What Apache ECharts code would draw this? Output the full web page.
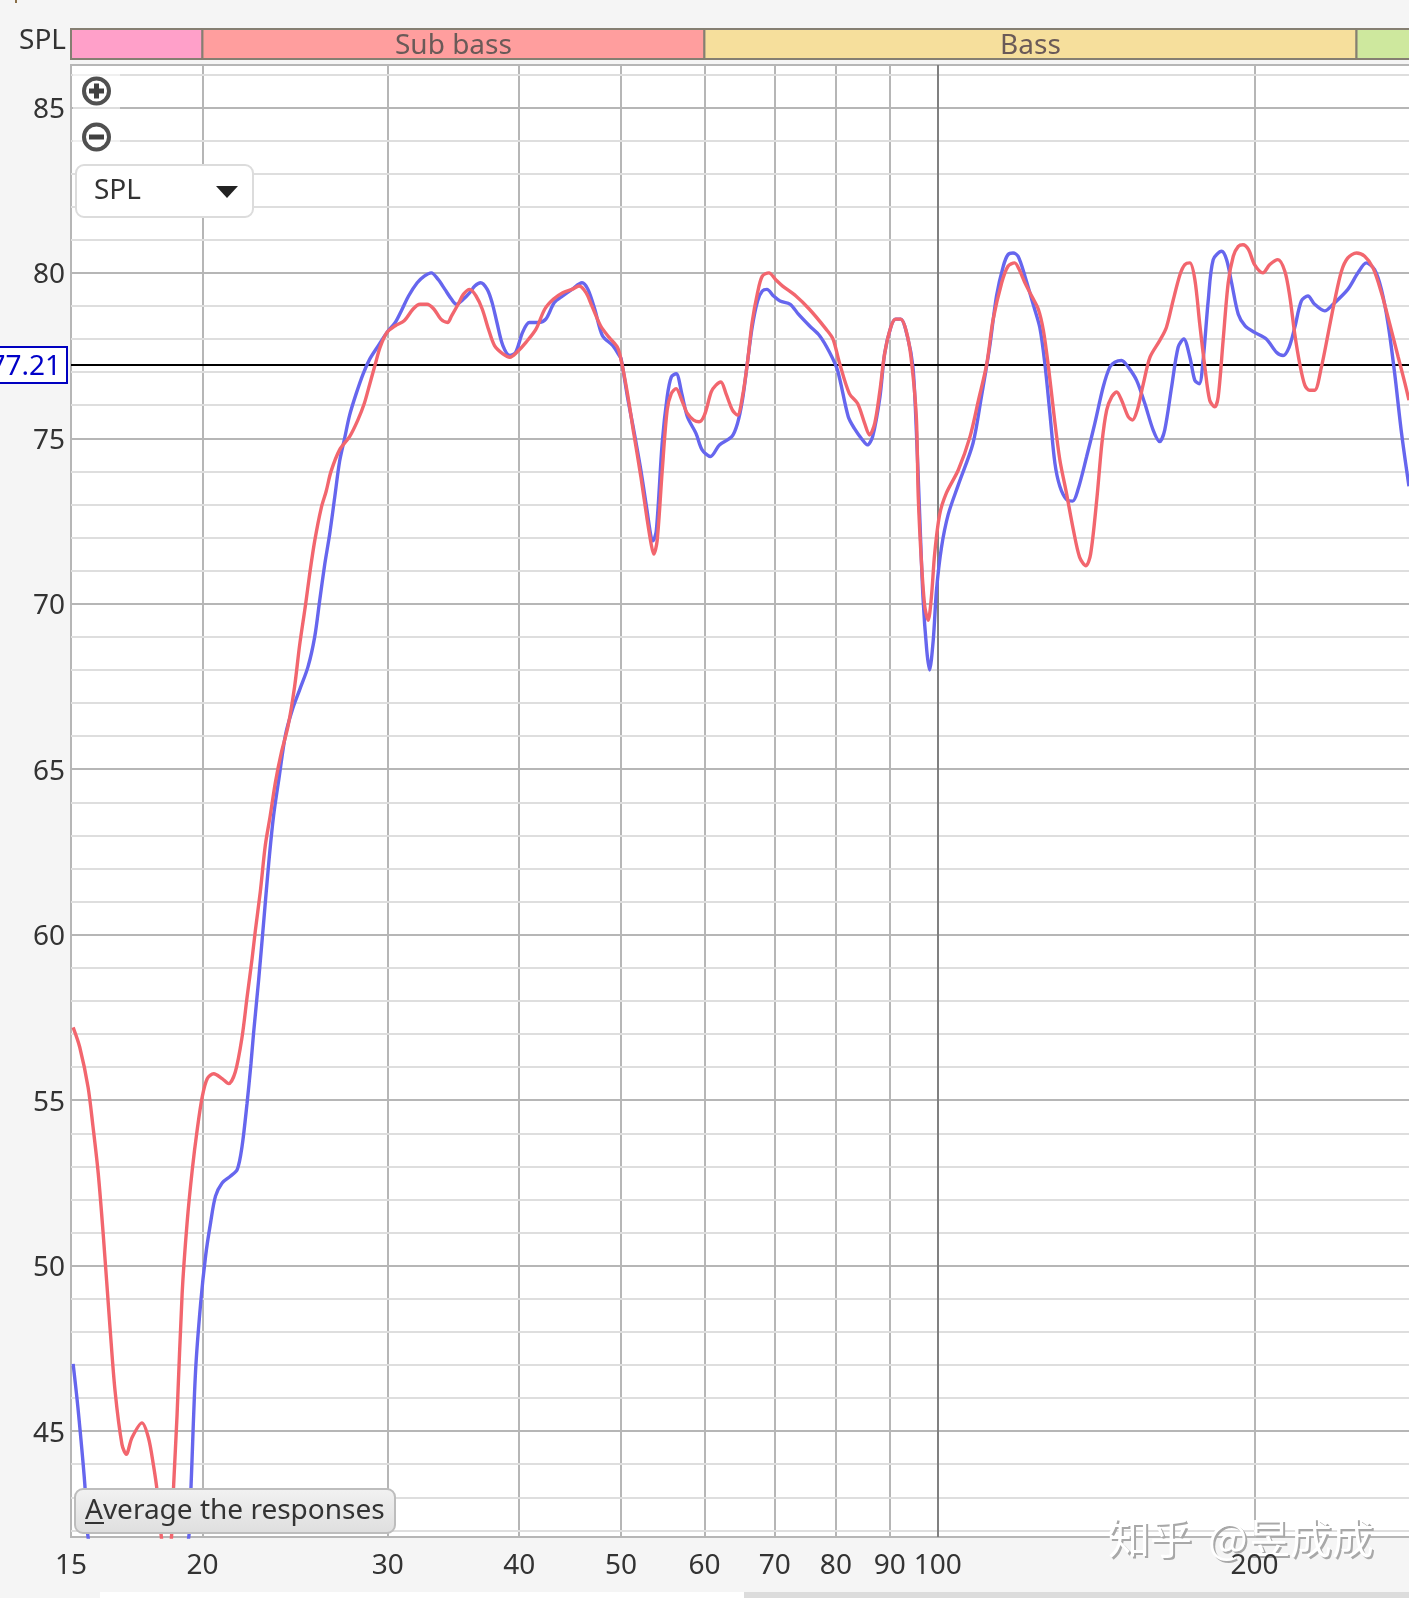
<!DOCTYPE html>
<html>
<head>
<meta charset="utf-8">
<title>SPL</title>
<script src="https://cdn.jsdelivr.net/npm/echarts@6/dist/echarts.min.js"></script>
<style>
  html, body { margin: 0; padding: 0; background: #f5f5f5; overflow: hidden; }
  #chart { width: 1409px; height: 1598px; }
</style>
</head>
<body>
<div id="chart"></div>
<script>
// frequency ticks (Hz) and level ticks (dB)
const freqTicks = [15, 20, 30, 40, 50, 60, 70, 80, 90, 100, 200];
const freqLines = [20, 30, 40, 50, 60, 70, 80, 90, 200];
const dbMajor = [45, 50, 55, 60, 65, 70, 75, 80, 85];
const dbMinor = [42, 43, 44, 46, 47, 48, 49, 51, 52, 53, 54, 56, 57, 58, 59, 61, 62, 63, 64, 66, 67, 68, 69, 71, 72, 73, 74, 76, 77, 78, 79, 81, 82, 83, 84, 86];

const bandNames = ['', 'Sub bass', 'Bass', ''];
const bandEdges = [15, 20, 60, 250, 283];
const bandColors = ['#ffa0c9', '#ff9e9e', '#f6df9c', '#cee89e'];

const cursorDb = 77.21;

const blueFreq = [15.07, 15.23, 15.46, 15.57, 16.3, 18.6, 19.41, 19.51, 19.7, 19.92, 20.14, 20.36, 20.58, 20.88, 21.26, 21.58, 21.81, 22.05, 22.24, 22.37, 22.62, 22.87, 23.12, 23.37, 23.64, 23.99, 24.35, 24.74, 25.2, 25.57, 25.85, 26.14, 26.42, 26.71, 27, 27.3, 27.6, 28, 28.43, 28.85, 29.39, 29.95, 30.5, 30.96, 31.4, 32, 32.5, 33, 33.5, 34, 34.5, 34.87, 35.4, 35.9, 36.3, 36.76, 37.3, 37.7, 38.1, 38.6, 39.2, 39.7, 40.3, 40.9, 41.7, 42.4, 43.2, 44, 44.9, 45.9, 46.5, 47.2, 48, 49.1, 49.8, 50, 50.7, 51.4, 52.2, 52.9, 53.4, 53.6, 54, 54.7, 55.3, 55.8, 56.4, 57.1, 57.8, 58.9, 59.7, 60.8, 62, 63.7, 64.5, 65.2, 65.9, 66.6, 67.4, 68.1, 68.8, 69.8, 70.8, 72.4, 73.7, 75.5, 77.2, 78.9, 80.3, 82.2, 83.3, 84.8, 85.7, 86.7, 88.1, 89, 90.2, 91.2, 92.2, 93.6, 94.7, 95.4, 96.1, 96.8, 97.6, 98.2, 99, 99.7, 100.8, 102.3, 104.6, 108, 110, 112, 113.7, 115.4, 116.6, 117.9, 119.2, 121, 123.2, 125, 126.4, 127.8, 129.2, 130.6, 132.5, 134.3, 135.9, 138.5, 141, 143.6, 145.7, 147.3, 149.5, 151.7, 154.5, 157.3, 160.2, 162.5, 164.3, 166.8, 169.2, 171.3, 173.6, 175.5, 177.2, 178.7, 180.7, 182.7, 186.1, 188.1, 190.2, 193, 195.9, 200, 205.2, 209.8, 212.9, 215.7, 218.4, 221.6, 224.8, 228.1, 233.2, 237.5, 245.3, 250.8, 255.4, 260.1, 264, 267.9, 271.8, 275.9, 280.4];
const blueDb = [47.03, 45.7, 43.4, 41.8, 38.5, 38.5, 41.8, 43.4, 46.8, 48.85, 50.3, 51.3, 52.1, 52.5, 52.7, 52.9, 53.6, 54.9, 56.1, 57.04, 58.65, 60.4, 62.15, 63.6, 64.7, 66.05, 66.8, 67.4, 68.1, 69, 70.1, 71.2, 72.1, 73.2, 74.3, 75, 75.7, 76.35, 76.95, 77.4, 77.8, 78.2, 78.5, 78.9, 79.3, 79.7, 79.9, 80, 79.8, 79.5, 79.2, 79.05, 79.2, 79.4, 79.6, 79.7, 79.5, 79.1, 78.5, 77.8, 77.5, 77.6, 78.2, 78.5, 78.5, 78.6, 79.1, 79.3, 79.5, 79.7, 79.5, 78.9, 78.1, 77.8, 77.5, 77.4, 76.25, 75.25, 74.05, 72.85, 72, 71.9, 72.2, 74.85, 76.25, 76.85, 76.95, 76.35, 75.65, 75.15, 74.65, 74.45, 74.8, 75.05, 75.45, 76.15, 77.25, 78.35, 79.15, 79.45, 79.5, 79.3, 79.15, 79.05, 78.75, 78.4, 78.1, 77.6, 77.05, 75.65, 75.3, 74.95, 74.8, 75.05, 76.25, 77.55, 78.35, 78.6, 78.6, 78.05, 77.15, 75.25, 72.7, 70.2, 68.6, 68, 68.9, 70.4, 71.7, 72.7, 73.6, 74.85, 76.25, 77.75, 79.3, 80.2, 80.55, 80.6, 80.5, 79.9, 79.05, 78.35, 77.25, 75.75, 74.25, 73.55, 73.15, 73.1, 73.45, 74.45, 75.45, 76.55, 77.15, 77.3, 77.35, 77.15, 76.75, 76.05, 75.25, 74.9, 75.25, 76.55, 77.75, 78, 77.45, 76.75, 76.65, 77.35, 79.15, 80.4, 80.65, 80.4, 79.7, 78.75, 78.4, 78.2, 78, 77.6, 77.5, 77.75, 78.35, 79.15, 79.3, 79.05, 78.85, 79.05, 79.5, 80, 80.3, 80.1, 79.5, 78.45, 76.95, 75.15, 73.55];

const redFreq = [15.07, 15.29, 15.57, 15.74, 15.92, 16.1, 16.34, 16.52, 16.77, 16.93, 17.14, 17.52, 17.77, 17.97, 18.11, 18.28, 18.48, 18.69, 18.78, 18.92, 19.13, 19.34, 19.56, 19.77, 19.99, 20.21, 20.5, 20.88, 21.18, 21.49, 21.81, 22.05, 22.3, 22.45, 22.7, 22.95, 23.2, 23.46, 23.77, 24.12, 24.47, 24.74, 25.07, 25.29, 25.57, 25.94, 26.22, 26.5, 27, 27.6, 28.1, 28.5, 28.85, 29.2, 29.5, 29.95, 30.5, 31.1, 31.7, 32.2, 32.7, 33.2, 33.7, 34.2, 34.5, 35, 35.4, 35.9, 36.4, 36.9, 37.4, 37.9, 38.6, 39.2, 39.8, 40.6, 41.5, 42.3, 43.1, 44, 44.9, 45.6, 46.3, 46.9, 47.8, 48.7, 49.6, 50, 50.7, 51.4, 52.2, 52.9, 53.4, 53.7, 54.1, 54.7, 55.3, 55.8, 56.4, 57.1, 57.8, 58.6, 59.3, 60, 60.9, 61.5, 62.2, 62.9, 63.8, 64.5, 65.2, 65.9, 66.6, 67.4, 68.1, 69.1, 70.1, 71.2, 73.3, 75.5, 78.3, 79.5, 80.6, 82.4, 83.9, 85.2, 86.1, 87.1, 88.1, 89, 90.2, 91.2, 92.2, 93.3, 94.3, 95.4, 95.8, 96.5, 97.2, 97.9, 98.6, 99.3, 100.4, 101.9, 104.6, 107.3, 109.3, 111.3, 112.8, 115, 116.6, 118.3, 119.5, 121, 122.8, 124.6, 126, 127.4, 128.9, 130.6, 132.5, 134.5, 136.4, 138.3, 139.7, 141.6, 143.2, 144.7, 146.3, 147.9, 149.5, 151.7, 153.1, 154.7, 156.8, 159.1, 162.5, 164.9, 167.3, 169.9, 171.7, 173.6, 175.5, 177.4, 179.4, 181.3, 183.3, 184.7, 186.7, 188.8, 190.9, 193, 195, 197.4, 200, 203.7, 206.8, 210.5, 213.7, 216, 218.4, 220.8, 223.3, 225.7, 228.1, 231.5, 234.9, 238.3, 241.9, 245.3, 250, 254.5, 259.2, 264, 268.9, 273.9, 278, 280.4];
const redDb = [57.2, 56.6, 55.4, 54.2, 52.8, 50.9, 48.1, 46.2, 44.6, 44.3, 44.8, 45.25, 44.8, 43.95, 43.2, 41.8, 40.6, 41.8, 43.4, 45.5, 49.15, 51.3, 52.9, 54.1, 55.1, 55.65, 55.8, 55.65, 55.5, 55.85, 56.9, 58.1, 59.3, 60.1, 61.3, 62.7, 63.6, 64.6, 65.5, 66.3, 67.5, 68.75, 70, 70.9, 71.9, 72.9, 73.4, 74, 74.65, 75.05, 75.55, 76.05, 76.65, 77.25, 77.75, 78.2, 78.4, 78.55, 78.9, 79.05, 79.05, 78.9, 78.6, 78.5, 78.7, 79.05, 79.35, 79.5, 79.3, 78.9, 78.3, 77.8, 77.55, 77.45, 77.6, 77.9, 78.3, 78.9, 79.2, 79.4, 79.5, 79.6, 79.4, 79, 78.4, 78.05, 77.75, 77.36, 76.35, 75.15, 73.85, 72.6, 71.8, 71.5, 71.9, 74, 75.85, 76.35, 76.5, 76.15, 75.75, 75.55, 75.5, 75.7, 76.4, 76.6, 76.7, 76.35, 75.85, 75.7, 76.25, 77.25, 78.5, 79.4, 79.9, 80, 79.8, 79.6, 79.3, 78.9, 78.3, 78, 77.3, 76.35, 76.05, 75.45, 75.1, 75.45, 76.45, 77.55, 78.35, 78.6, 78.6, 78.25, 77.45, 75.65, 73.25, 71.2, 69.9, 69.5, 70.2, 71.5, 72.7, 73.35, 74.05, 75.05, 76.15, 77.25, 78.55, 79.7, 80.2, 80.3, 80.1, 79.7, 79.3, 78.9, 78.25, 77.15, 75.75, 74.35, 73.35, 72.25, 71.4, 71.15, 71.5, 73.15, 74.85, 75.85, 76.25, 76.4, 76.15, 75.65, 75.55, 75.85, 76.65, 77.45, 77.95, 78.35, 79.15, 79.95, 80.25, 80.3, 79.8, 78.45, 77.15, 76.15, 75.95, 76.25, 77.95, 79.7, 80.5, 80.8, 80.85, 80.7, 80.25, 80, 80.25, 80.4, 80.05, 79.3, 78.15, 77.25, 76.6, 76.45, 76.45, 77.15, 78.15, 79.15, 80.05, 80.45, 80.6, 80.5, 80.15, 79.4, 78.45, 77.45, 76.65, 76.15];

const zip = (xs, ys) => xs.map((x, i) => [x, ys[i]]);

const FONT = '"Noto Sans", "Open Sans", sans-serif';
const GRID_COLOR = '#b6b6b6';
const GRID_MINOR = '#dedede';
const TEXT_COLOR = '#333';
const X_MIN = 15, X_MAX = 282.9;
const PLOT_W = 1342; // runs a few pixels past the window so no right border shows

const chart = echarts.init(document.getElementById('chart'));

const bandAreas = bandNames.map((name, i) => [
  {
    xAxis: bandEdges[i],
    name: name,
    itemStyle: { color: bandColors[i], opacity: 1, borderColor: '#857f72', borderWidth: 2 }
  },
  { xAxis: bandEdges[i + 1] }
]);

chart.setOption({
  animation: false,
  backgroundColor: '#f5f5f5',
  grid: [
    { left: 71, top: 65, width: PLOT_W, height: 1472, outerBoundsMode: 'none', show: true, backgroundColor: '#fff', borderColor: GRID_COLOR, borderWidth: 2 },
    { left: 71, top: 29, width: PLOT_W, height: 30, outerBoundsMode: 'none' }
  ],
  xAxis: [
    {
      type: 'log', min: X_MIN, max: X_MAX, logBase: 10, gridIndex: 0,
      axisLine: { show: false },
      axisTick: { show: false, customValues: freqLines },
      minorTick: { show: false },
      splitLine: { show: true, lineStyle: { color: GRID_COLOR, width: 2 } },
      axisLabel: { show: false }
    },
    { type: 'log', min: X_MIN, max: X_MAX, logBase: 10, gridIndex: 1, show: false },
    {
      // tick labels only, kept above the watermark
      type: 'log', min: X_MIN, max: X_MAX, logBase: 10, gridIndex: 0, position: 'bottom', z: 40,
      axisLine: { show: false }, axisTick: { show: false, customValues: freqTicks }, splitLine: { show: false }, minorTick: { show: false },
      axisLabel: { customValues: freqTicks, color: TEXT_COLOR, fontFamily: FONT, fontSize: 28, margin: 15, hideOverlap: false, formatter: v => String(Math.round(v)) }
    }
  ],
  yAxis: [
    {
      type: 'value', min: 41.8, max: 86.28, gridIndex: 0, position: 'left', z: 2,
      axisLine: { show: false }, axisTick: { show: false, customValues: dbMajor },
      splitLine: { show: true, lineStyle: { color: GRID_COLOR, width: 2 } },
      axisLabel: {
        customValues: dbMajor, color: TEXT_COLOR, fontFamily: FONT, fontSize: 28, margin: 6,
        formatter: v => '{t|' + v + '}',
        rich: { t: { fontFamily: FONT, fontSize: 28, color: TEXT_COLOR, padding: [5, 0, 0, 0] } }
      }
    },
    {
      type: 'value', min: 41.8, max: 86.28, gridIndex: 0, position: 'left', z: 1,
      axisLine: { show: false }, axisLabel: { show: false },
      axisTick: { show: false, customValues: dbMinor },
      splitLine: { show: true, lineStyle: { color: GRID_MINOR, width: 2 } }
    },
    { type: 'value', min: 0, max: 1, gridIndex: 1, show: false }
  ],
  series: [
    {
      // 100 Hz line and the level cursor
      type: 'line', data: [], xAxisIndex: 0, yAxisIndex: 0, silent: true,
      markLine: {
        silent: true, symbol: 'none', animation: false, label: { show: false }, z: 2,
        data: [
          { xAxis: 100, lineStyle: { color: '#808080', width: 2, type: 'solid' } },
          { yAxis: cursorDb, lineStyle: { color: '#000', width: 2, type: 'solid' } }
        ]
      }
    },
    {
      name: 'blue', type: 'line', data: zip(blueFreq, blueDb), xAxisIndex: 0, yAxisIndex: 0,
      symbol: 'none', smooth: 0.3, z: 3, lineStyle: { color: '#6666ee', width: 3.4 }
    },
    {
      name: 'red', type: 'line', data: zip(redFreq, redDb), xAxisIndex: 0, yAxisIndex: 0,
      symbol: 'none', smooth: 0.3, z: 4, lineStyle: { color: '#f2666e', width: 3.4 }
    },
    {
      type: 'line', data: [], xAxisIndex: 1, yAxisIndex: 2, silent: true,
      markArea: {
        silent: true,
        label: { show: true, position: 'inside', offset: [0, 2], color: '#6a5a58', fontFamily: FONT, fontSize: 28, formatter: p => p.name },
        data: bandAreas
      }
    }
  ],
  graphic: [
    // window chrome around the plot
    { type: 'rect', shape: { x: 15, y: 0, width: 2, height: 3 }, style: { fill: '#8a6f48' } },
    { type: 'rect', shape: { x: 100, y: 1592, width: 644, height: 6 }, style: { fill: '#fff' } },
    { type: 'rect', shape: { x: 744, y: 1592, width: 665, height: 6 }, style: { fill: '#dcdcdc' } },
    { type: 'text', style: { x: 66, y: 41, text: 'SPL', align: 'right', verticalAlign: 'middle', fill: TEXT_COLOR, font: '28px ' + FONT } },

    // cursor read-out
    { type: 'rect', z: 20, shape: { x: -2, y: 347, width: 69, height: 36 }, style: { fill: '#fff', stroke: '#0000c0', lineWidth: 2 } },
    { type: 'text', z: 21, style: { x: 61, y: 367, text: '77.21', align: 'right', verticalAlign: 'middle', fill: '#0000c8', font: '28px ' + FONT } },

    // zoom buttons
    { type: 'rect', z: 20, shape: { x: 73, y: 72, width: 47, height: 80 }, style: { fill: 'rgba(255,255,255,0.55)' } },
    { type: 'circle', z: 21, shape: { cx: 96.5, cy: 91, r: 12.5 }, style: { fill: '#fff', stroke: '#505050', lineWidth: 4 } },
    { type: 'rect', z: 22, shape: { x: 89, y: 88.5, width: 15, height: 5 }, style: { fill: '#404040' } },
    { type: 'rect', z: 22, shape: { x: 94, y: 83.5, width: 5, height: 15 }, style: { fill: '#404040' } },
    { type: 'circle', z: 21, shape: { cx: 96.5, cy: 137, r: 12.5 }, style: { fill: '#fff', stroke: '#505050', lineWidth: 4 } },
    { type: 'rect', z: 22, shape: { x: 89, y: 134.5, width: 15, height: 5 }, style: { fill: '#404040' } },

    // measurement selector
    { type: 'rect', z: 20, shape: { x: 76, y: 165, width: 177, height: 52, r: 8 }, style: { fill: '#fff', stroke: '#dcdcdc', lineWidth: 2 } },
    { type: 'text', z: 21, style: { x: 94, y: 191, text: 'SPL', align: 'left', verticalAlign: 'middle', fill: TEXT_COLOR, font: '28px ' + FONT } },
    { type: 'polygon', z: 21, shape: { points: [[216, 186], [238, 186], [227, 198]] }, style: { fill: '#222' } },

    // average button
    {
      type: 'rect', z: 20, shape: { x: 75, y: 1489, width: 320, height: 44, r: 8 },
      style: {
        stroke: '#bdbdbd', lineWidth: 2,
        fill: { type: 'linear', x: 0, y: 0, x2: 0, y2: 1, colorStops: [{ offset: 0, color: '#f2f2f2' }, { offset: 1, color: '#dedede' }] }
      }
    },
    { type: 'text', z: 21, style: { x: 85, y: 1511, text: 'Average the responses', align: 'left', verticalAlign: 'middle', fill: TEXT_COLOR, font: '28px ' + FONT } },
    { type: 'rect', z: 21, shape: { x: 85, y: 1522, width: 19, height: 2 }, style: { fill: TEXT_COLOR } },

    // watermark
    { type: 'text', z: 30, style: { x: 1110, y: 1540, text: '知乎', align: 'left', verticalAlign: 'middle', fill: '#a8a8a8', font: '42px "Noto Sans CJK SC"' } },
    { type: 'text', z: 31, style: { x: 1108, y: 1538, text: '知乎', align: 'left', verticalAlign: 'middle', fill: '#fff', font: '42px "Noto Sans CJK SC"' } },
    { type: 'text', z: 30, style: { x: 1210, y: 1540, text: '@昱成成', align: 'left', verticalAlign: 'middle', fill: '#a8a8a8', font: '42px "Noto Sans CJK SC"' } },
    { type: 'text', z: 31, style: { x: 1208, y: 1538, text: '@昱成成', align: 'left', verticalAlign: 'middle', fill: '#fff', font: '42px "Noto Sans CJK SC"' } }
  ]
});
</script>
</body>
</html>
